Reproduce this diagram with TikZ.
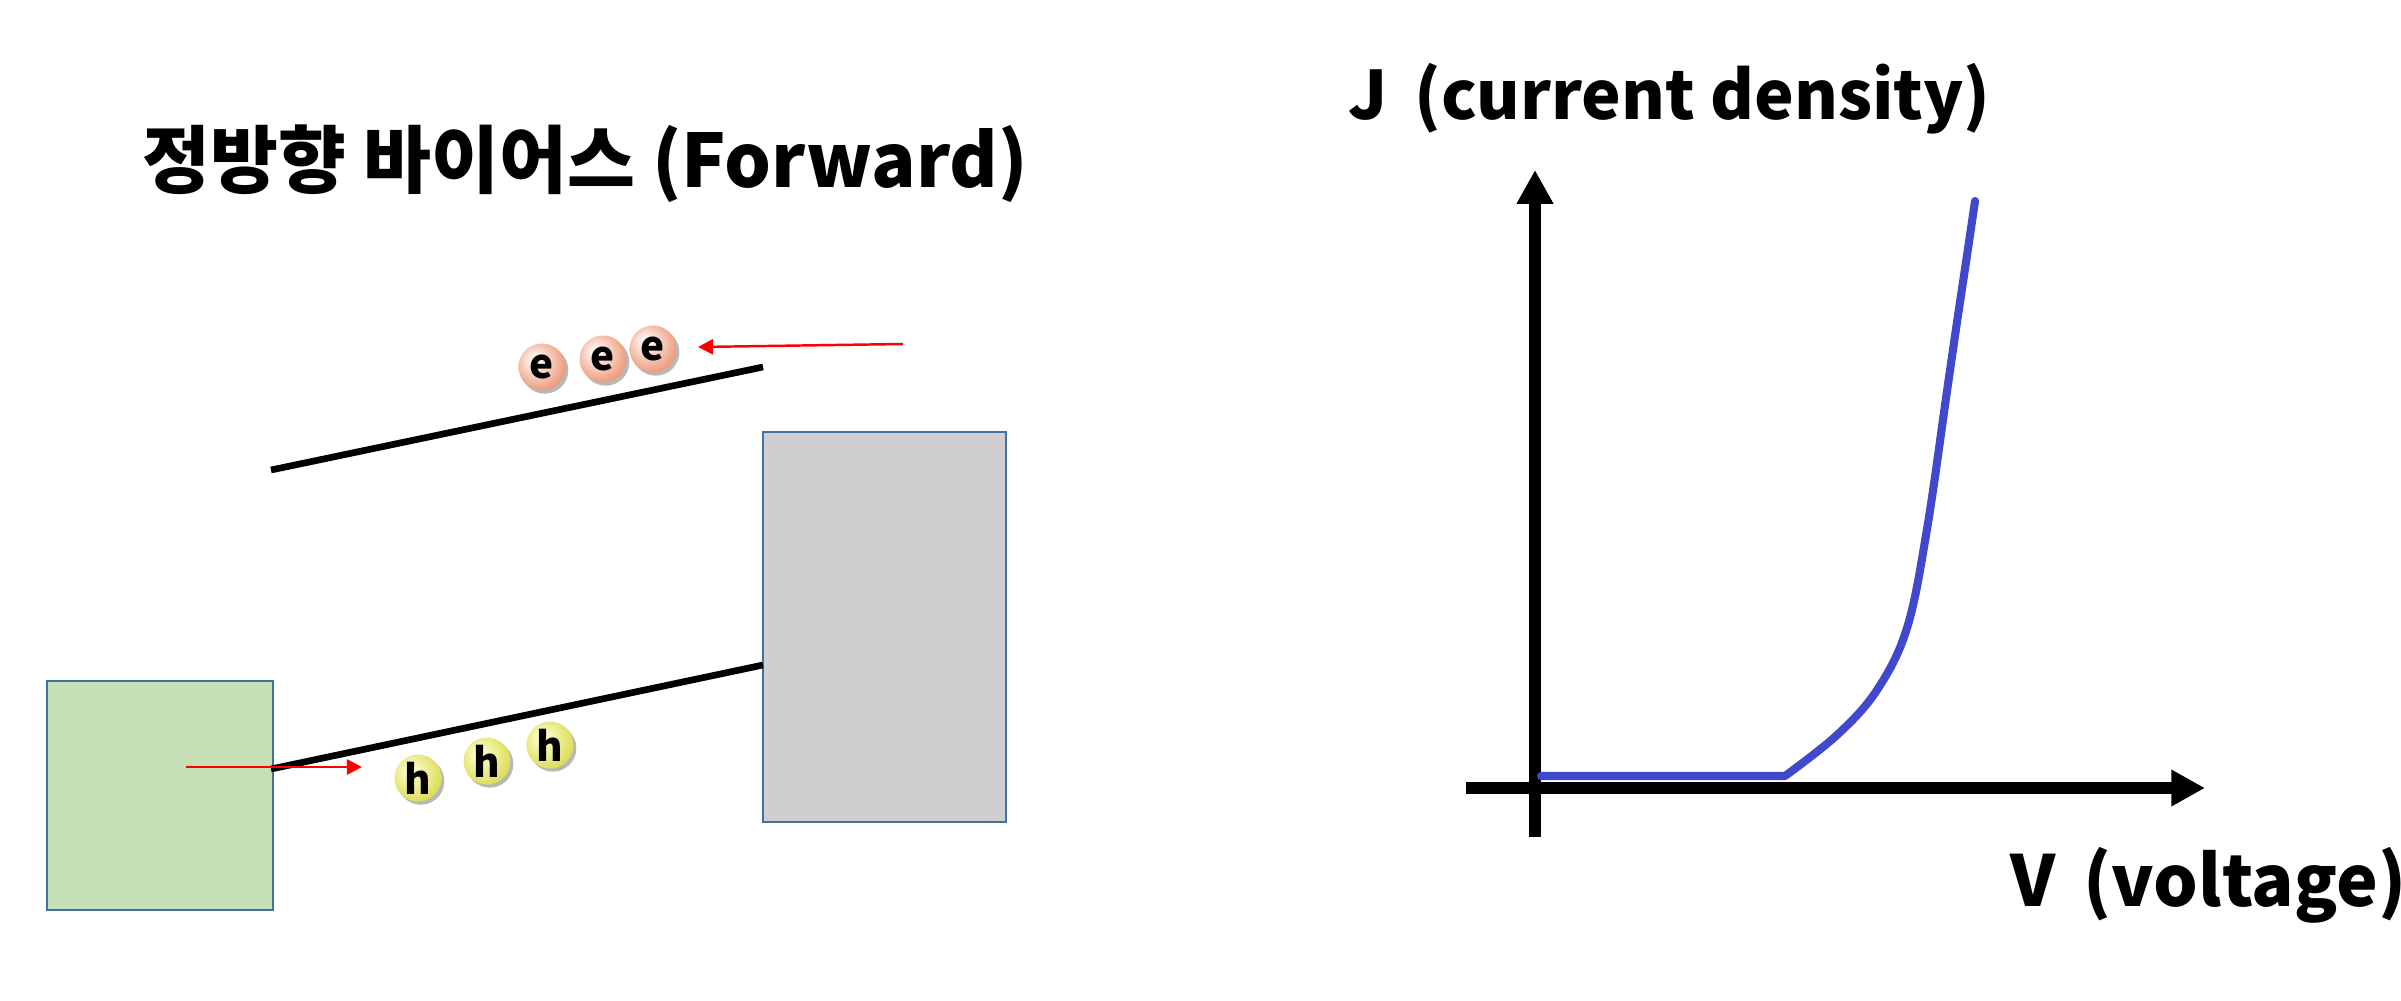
\documentclass[tikz,border=0pt]{standalone}
\usepackage{fontspec}
\setmainfont{Noto Sans CJK KR}
\usepackage{tikz}
\usetikzlibrary{arrows.meta, shadows}

\definecolor{nfill}{RGB}{197,224,180}
\definecolor{pfill}{RGB}{208,206,206}
\definecolor{boxline}{RGB}{65,113,156}
\definecolor{ivblue}{RGB}{64,72,204}
\definecolor{eorange}{RGB}{232,130,92}
\definecolor{epale}{RGB}{253,238,232}
\definecolor{hyellow}{RGB}{212,212,58}
\definecolor{hpale}{RGB}{250,250,196}

\pgfdeclareradialshading{eball}{\pgfpoint{-9bp}{9bp}}{color(0bp)=(epale); color(6bp)=(epale); color(36bp)=(eorange); color(50bp)=(eorange)}
\pgfdeclareradialshading{hball}{\pgfpoint{-9bp}{9bp}}{color(0bp)=(hpale); color(6bp)=(hpale); color(36bp)=(hyellow); color(50bp)=(hyellow)}

\tikzset{
  carrier/.style={circle, minimum size=0.47cm, inner sep=0pt,
    font=\bfseries\fontsize{11.5}{12}\selectfont,
    drop shadow={shadow xshift=0.8pt, shadow yshift=-0.9pt, fill=black!28, opacity=1}},
  elec/.style={carrier, shading=eball},
  hole/.style={carrier, shading=hball},
  band/.style={line width=1.9pt},
  flow/.style={red, line width=0.7pt, -{Triangle[length=4.3pt,width=4.3pt]}},
  axisline/.style={line width=3.3pt, -{Triangle[length=9.6pt,width=9.8pt]}},
  bigtext/.style={anchor=base west, inner sep=0pt, font=\bfseries\fontsize{20}{24}\selectfont}
}

\begin{document}
\begin{tikzpicture}[x=0.01cm, y=-0.01cm]
    \useasboundingbox (0,0) rectangle (2401,1000);
    % title
    \node[bigtext, font=\bfseries\fontsize{21}{25}\selectfont] (title) at (142,187) {정방향 바이어스 (Forward)};
    % n side and p side blocks
    \filldraw[fill=nfill, draw=boxline, line width=0.6pt] (47,681) rectangle (273,910);
    \filldraw[fill=pfill, draw=boxline, line width=0.6pt] (763,432) rectangle (1006,822);
    % band edges
    \draw[band] (271,470) -- (763,367);
    \draw[band] (271,769) -- (763,665);
    % electrons
    \node[elec] (e1) at (542,367) {e};
    \node[elec] (e2) at (603,359) {e};
    \node[elec] (e3) at (653,349) {e};
    \coordinate (ein) at (903,344);
    \coordinate (eout) at (698,347);
    \draw[flow] (ein) -- (eout);
    % holes
    \node[hole] (h1) at (418,778) {h};
    \node[hole] (h2) at (487,761) {h};
    \node[hole] (h3) at (550,745) {h};
    \coordinate (hin) at (186,767);
    \coordinate (hout) at (362,767);
    \draw[flow] (hin) -- (hout);
    % J-V axes
    \coordinate (O) at (1535,788);
    \draw[axisline] (1535,837) -- (1535,170);
    \draw[axisline] (1466,788) -- (2205,788);
    \node[bigtext, font=\bfseries\fontsize{19}{23}\selectfont] (jlab) at (1348,119) {J\,\ (current density)};
    \node[bigtext] (vlab) at (2010,906) {V\,\ (voltage)};
    % diode curve
    \draw[ivblue, line width=2.3pt, line cap=round, line join=round]
        (1541,776) -- plot[smooth, tension=0.6] coordinates {(1785,776)
        (1837,735) (1877,690) (1907,628) (1927,529) (1947,391)
        (1957,322) (1966,262) (1975,201)};
\end{tikzpicture}
\end{document}
